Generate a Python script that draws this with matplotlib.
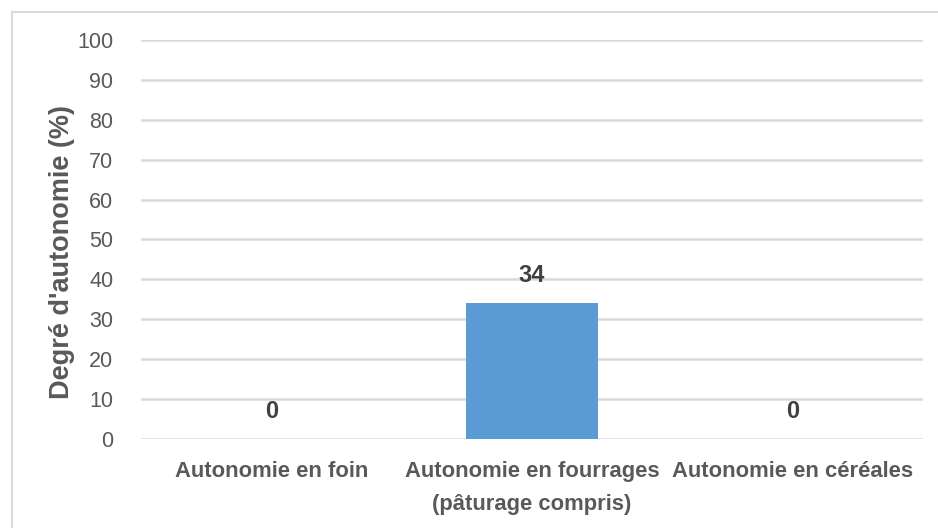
import matplotlib.pyplot as plt
from matplotlib.lines import Line2D

# data
categories = ['Autonomie en foin', 'Autonomie en fourrages\n(pâturage compris)', 'Autonomie en céréales']
values = [0, 34, 0]
yticks = [0, 10, 20, 30, 40, 50, 60, 70, 80, 90, 100]

plt.rcParams['font.family'] = ['Liberation Sans', 'DejaVu Sans']

fig = plt.figure(figsize=(9.38, 5.28), dpi=100)
ax = fig.add_axes([141 / 938, 1 - 439 / 528, (923 - 141) / 938, (439 - 40) / 528])

x = range(len(categories))
ax.bar(x, values, width=0.51, color='#5B9BD5', zorder=3)

for xi, v in zip(x, values):
    ax.annotate(str(v), (xi, v), xytext=(0, 20), textcoords='offset points',
                ha='center', va='center', fontsize=17, fontweight='bold', color='#404040')

ax.set_xlim(-0.5, len(categories) - 0.5)
ax.set_ylim(0, 100)
ax.set_yticks(yticks)
ax.set_xticks(list(x))
ax.set_xticklabels(categories, fontsize=15.8, fontweight='bold', color='#595959', linespacing=1.75)
ax.tick_params(axis='y', labelsize=15.5, labelcolor='#595959', length=0, pad=20)
ax.tick_params(axis='x', length=0, pad=16)
ax.grid(axis='y', color='#D9D9D9', linewidth=1.8, zorder=0)
ax.set_axisbelow(True)
for s in ax.spines.values():
    s.set_visible(False)

ax.set_ylabel("Degré d'autonomie (%)", fontsize=19.5, fontweight='bold', color='#595959', va='center')
ax.yaxis.set_label_coords(-0.1005, 0.469)

# outer frame (top and left edges visible)
fig.add_artist(Line2D([12 / 938, 1], [1 - 12 / 528, 1 - 12 / 528], color='#D9D9D9', lw=1.5, transform=fig.transFigure))
fig.add_artist(Line2D([12 / 938, 12 / 938], [0, 1 - 12 / 528], color='#D9D9D9', lw=1.5, transform=fig.transFigure))

fig.savefig('out.png', dpi=100)
